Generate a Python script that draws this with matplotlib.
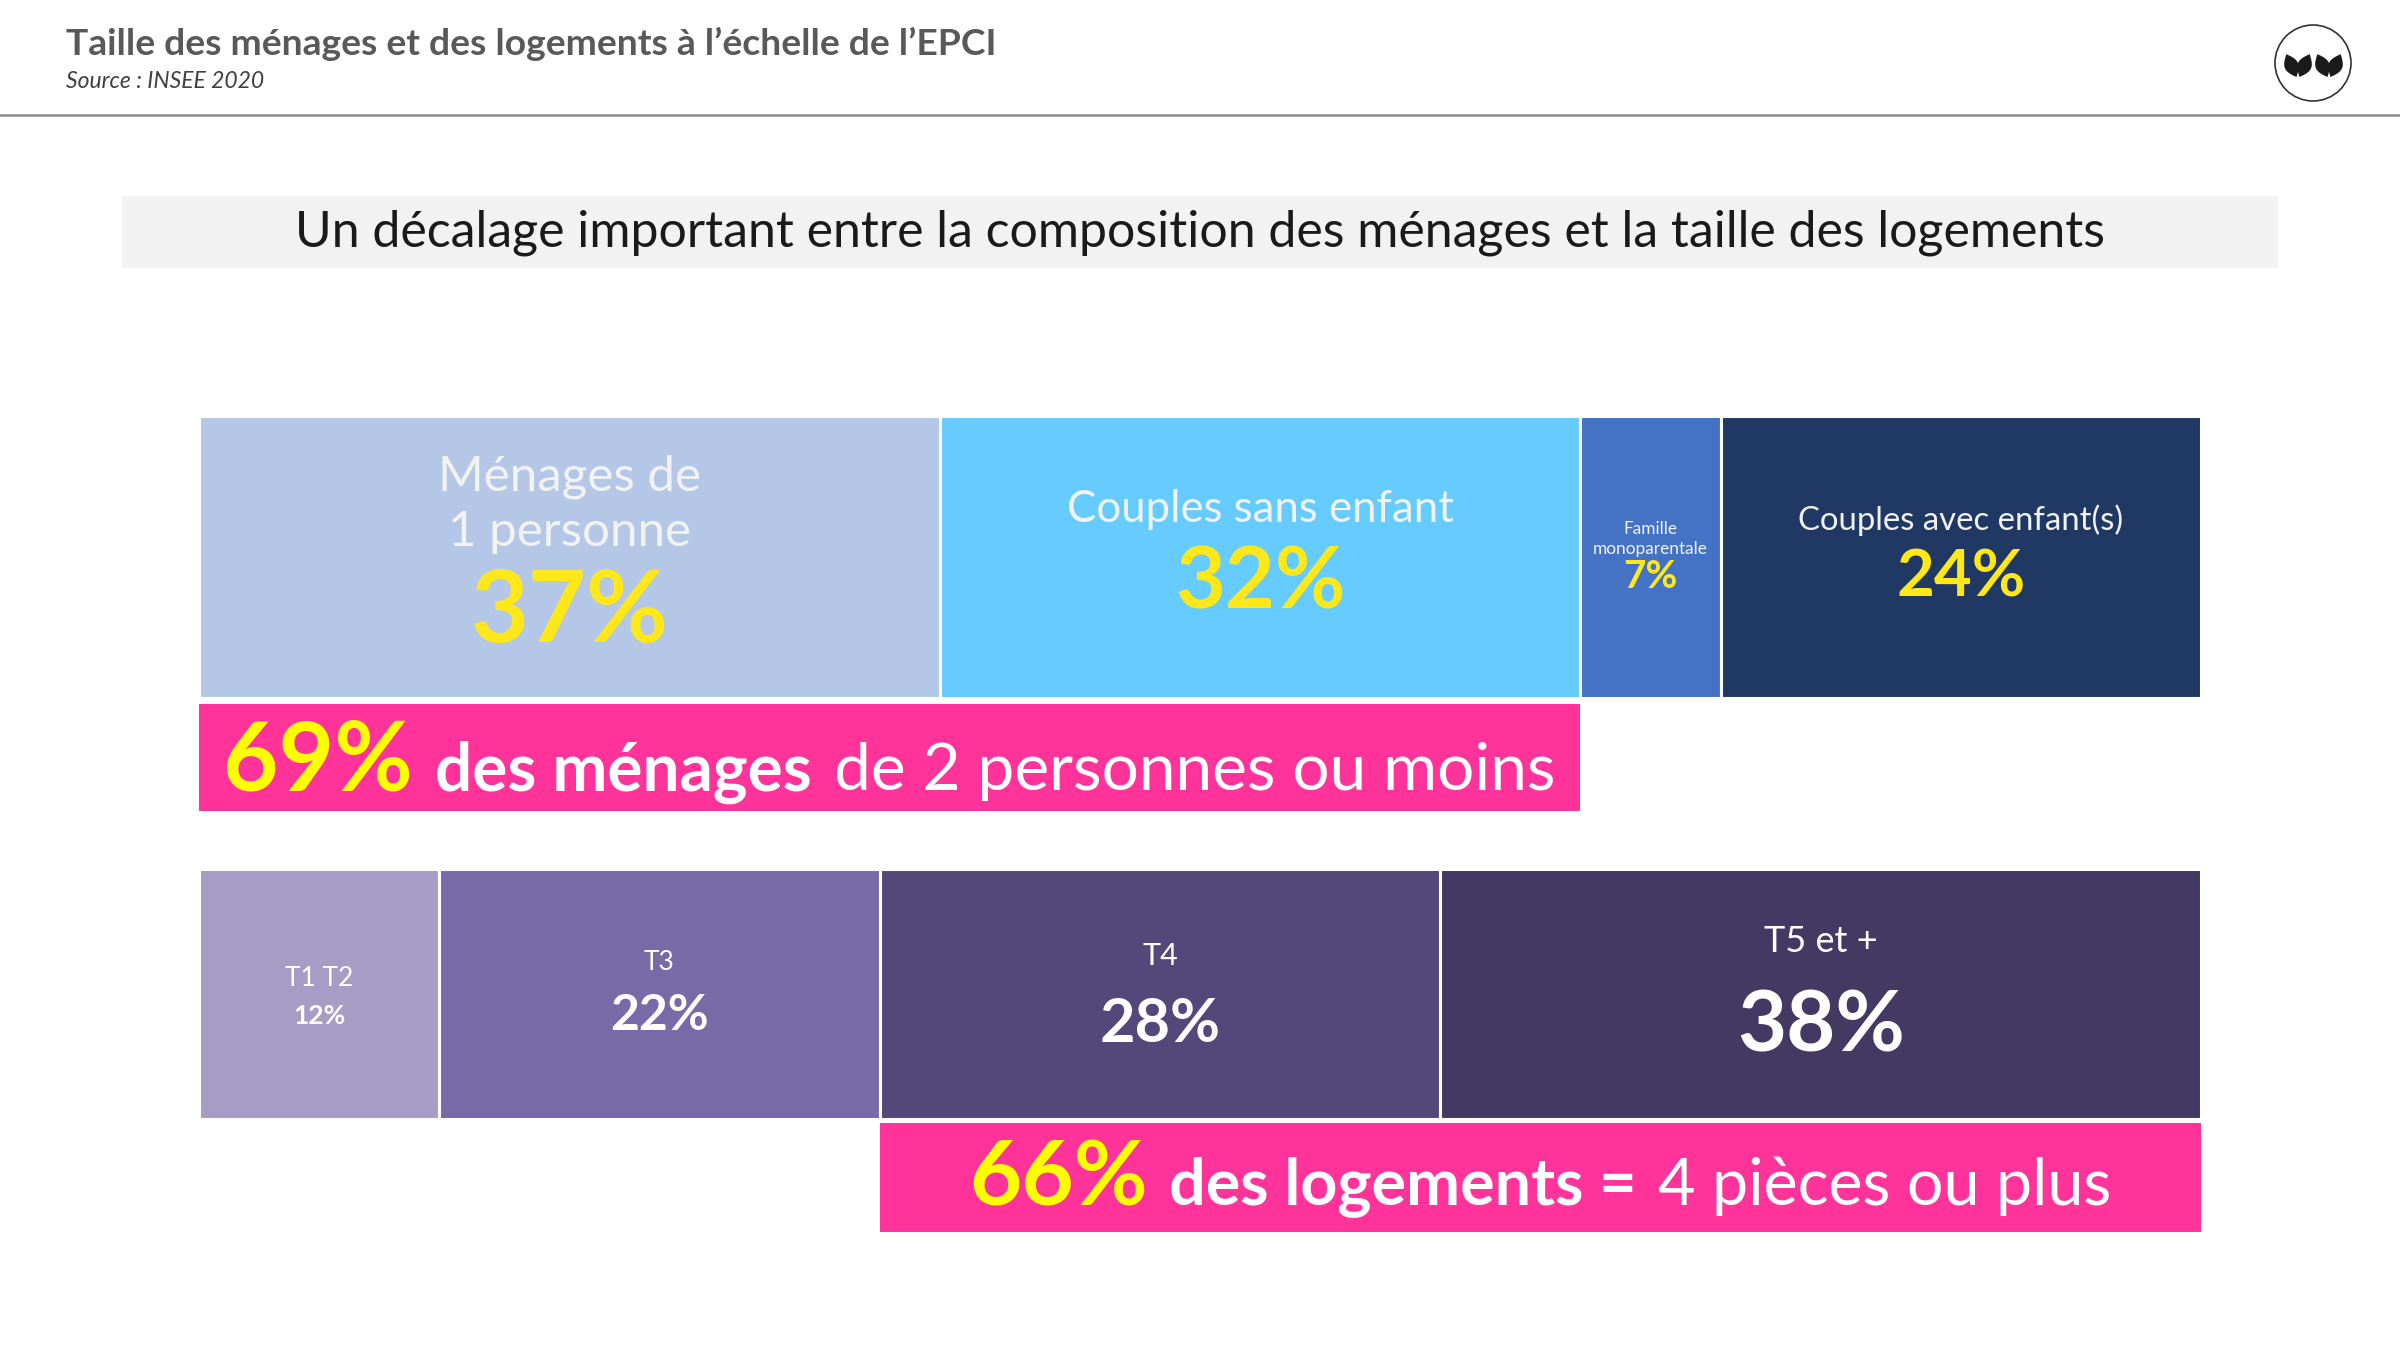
import numpy as np
import matplotlib
matplotlib.use("Agg")
import matplotlib.pyplot as plt
from matplotlib.patches import Rectangle, Circle, Polygon
from matplotlib.offsetbox import TextArea, HPacker, AnnotationBbox

# ---------------- data ----------------
title = "Taille des ménages et des logements à l’échelle de l’EPCI"
source = "Source : INSEE 2020"
banner = "Un décalage important entre la composition des ménages et la taille des logements"

menages_labels = ["Ménages de\n1 personne", "Couples sans enfant", "Famille\nmonoparentale", "Couples avec enfant(s)"]
menages_pct = [37, 32, 7, 24]
logements_labels = ["T1 T2", "T3", "T4", "T5 et +"]
logements_pct = [12, 22, 28, 38]
synthese_menages = 69        # ménages de 2 personnes ou moins
synthese_logements = 66      # logements de 4 pièces ou plus

# ---------------- style ----------------
W, H = 2400, 1350
FONT = "Lato"
menages_colors = ["#B4C7E7", "#66CCFF", "#4472C4", "#203864"]
logements_colors = ["#A69CC6", "#786AA6", "#54487A", "#433963"]
PINK = "#FF3399"
YEL_TOP = "#FFE81A"
YEL = "#FFFF00"

fig = plt.figure(figsize=(24, 13.5), dpi=100)
fig.patch.set_facecolor("white")

bg = fig.add_axes([0, 0, 1, 1])
bg.set_xlim(0, W)
bg.set_ylim(H, 0)
bg.axis("off")


def rect(x0, y0, x1, y1):
    return [x0 / W, 1 - y1 / H, (x1 - x0) / W, (y1 - y0) / H]


# ---------------- header ----------------
bg.text(66, 44, title, fontsize=26.8, fontweight="bold", color="#595959",
        family=FONT, va="center", ha="left")
bg.text(66, 82, source, fontsize=16.5, style="italic", color="#404040",
        family=FONT, va="center", ha="left")
bg.plot([0, W], [115, 115], color="#8C8C8C", lw=1.8)

# logo
cx, cy, r = 2313, 63, 38
bg.add_patch(Circle((cx, cy), r, fill=False, ec="#333333", lw=1.2))


def leaf(x0, y0, length, width, lean):
    t = np.linspace(0, np.pi, 40)
    xs = np.concatenate([width / 2 * np.sin(t), -width / 2 * np.sin(t[::-1])])
    ys = np.concatenate([length * t / np.pi, length * t[::-1] / np.pi])
    a = np.deg2rad(lean)
    X = x0 + xs * np.cos(a) + ys * np.sin(a)
    Y = y0 - ys * np.cos(a) + xs * np.sin(a)
    return Polygon(np.column_stack([X, Y]), closed=True, fc="#1A1A1A", ec="none")


for bx in (cx - 15, cx + 16):
    for lean, dx in ((-24, -1.5), (24, 1.5)):
        bg.add_patch(leaf(bx + dx, cy + 14, 25, 14, lean))

# banner
bg.add_patch(Rectangle((122, 196), 2156, 72, fc="#F2F2F2", ec="none"))
bg.text(1200, 233, banner, fontsize=36, color="#1A1A1A", family=FONT,
        ha="center", va="center")

# ---------------- top bar : ménages ----------------
ax1 = fig.add_axes(rect(199, 416, 2201, 811))
ax1.set_xlim(0, 100)
ax1.set_ylim(395, 0)
ax1.axis("off")
left = np.concatenate([[0], np.cumsum(menages_pct)[:-1]])
ax1.barh(141, menages_pct, left=left, height=282, color=menages_colors,
         edgecolor="white", linewidth=2.2)
ax1.barh(341.5, synthese_menages, left=0, height=107, color=PINK, edgecolor="none")

centers = left + np.array(menages_pct) / 2
lab_specs = [  # (label y, label size, pct y, pct size, linespacing)
    (88, 35.5, 198, 72, 1.3),
    (94, 31.5, 168, 62, 1.2),
    (123, 12.4, 161, 28, 1.3),
    (104, 23.7, 162, 47, 1.2),
]
for c, lab, p, (ly, ls, py, ps, lsp) in zip(centers, menages_labels, menages_pct, lab_specs):
    ax1.text(c, ly, lab, ha="center", va="center", fontsize=ls, color="#F2F2F2",
             family=FONT, linespacing=lsp)
    ax1.text(c, py, f"{p}%", ha="center", va="center", fontsize=ps, color=YEL_TOP,
             family=FONT, fontweight="bold")

parts1 = HPacker(children=[
    TextArea(f"{synthese_menages}%", textprops=dict(fontsize=69, color=YEL, family=FONT, fontweight="bold")),
    TextArea("des ménages", textprops=dict(fontsize=47.3, color="white", family=FONT, fontweight="bold")),
    TextArea("de 2 personnes ou moins", textprops=dict(fontsize=47.3, color="white", family=FONT)),
], align="baseline", pad=0, sep=16)
ax1.add_artist(AnnotationBbox(parts1, (1.2, 347), xycoords="data", frameon=False,
                              box_alignment=(0, 0.5), pad=0))

# ---------------- bottom bar : logements ----------------
ax2 = fig.add_axes(rect(199, 869, 2201, 1232))
ax2.set_xlim(0, 100)
ax2.set_ylim(363, 0)
ax2.axis("off")
left2 = np.concatenate([[0], np.cumsum(logements_pct)[:-1]])
ax2.barh(125, logements_pct, left=left2, height=250, color=logements_colors,
         edgecolor="white", linewidth=2.2)
start = 100 - synthese_logements
ax2.barh(308.5, synthese_logements, left=start, height=109, color=PINK, edgecolor="none")

centers2 = left2 + np.array(logements_pct) / 2
lab_specs2 = [
    (110, 19, 147, 19),
    (93, 19, 147, 36),
    (87, 22, 155, 44),
    (72, 26, 158, 61),
]
for c, lab, p, (ly, ls, py, ps) in zip(centers2, logements_labels, logements_pct, lab_specs2):
    ax2.text(c, ly, lab, ha="center", va="center", fontsize=ls, color="white", family=FONT)
    ax2.text(c, py, f"{p}%", ha="center", va="center", fontsize=ps, color="white",
             family=FONT, fontweight="bold")

parts2 = HPacker(children=[
    TextArea(f"{synthese_logements}%", textprops=dict(fontsize=65, color=YEL, family=FONT, fontweight="bold")),
    TextArea("des logements =", textprops=dict(fontsize=46.5, color="white", family=FONT, fontweight="bold")),
    TextArea("4 pièces ou plus", textprops=dict(fontsize=46.5, color="white", family=FONT)),
], align="baseline", pad=0, sep=15)
ax2.add_artist(AnnotationBbox(parts2, (start + synthese_logements / 2, 310), xycoords="data",
                              frameon=False, box_alignment=(0.5, 0.5), pad=0))

fig.savefig("out.png", dpi=100, facecolor="white")
